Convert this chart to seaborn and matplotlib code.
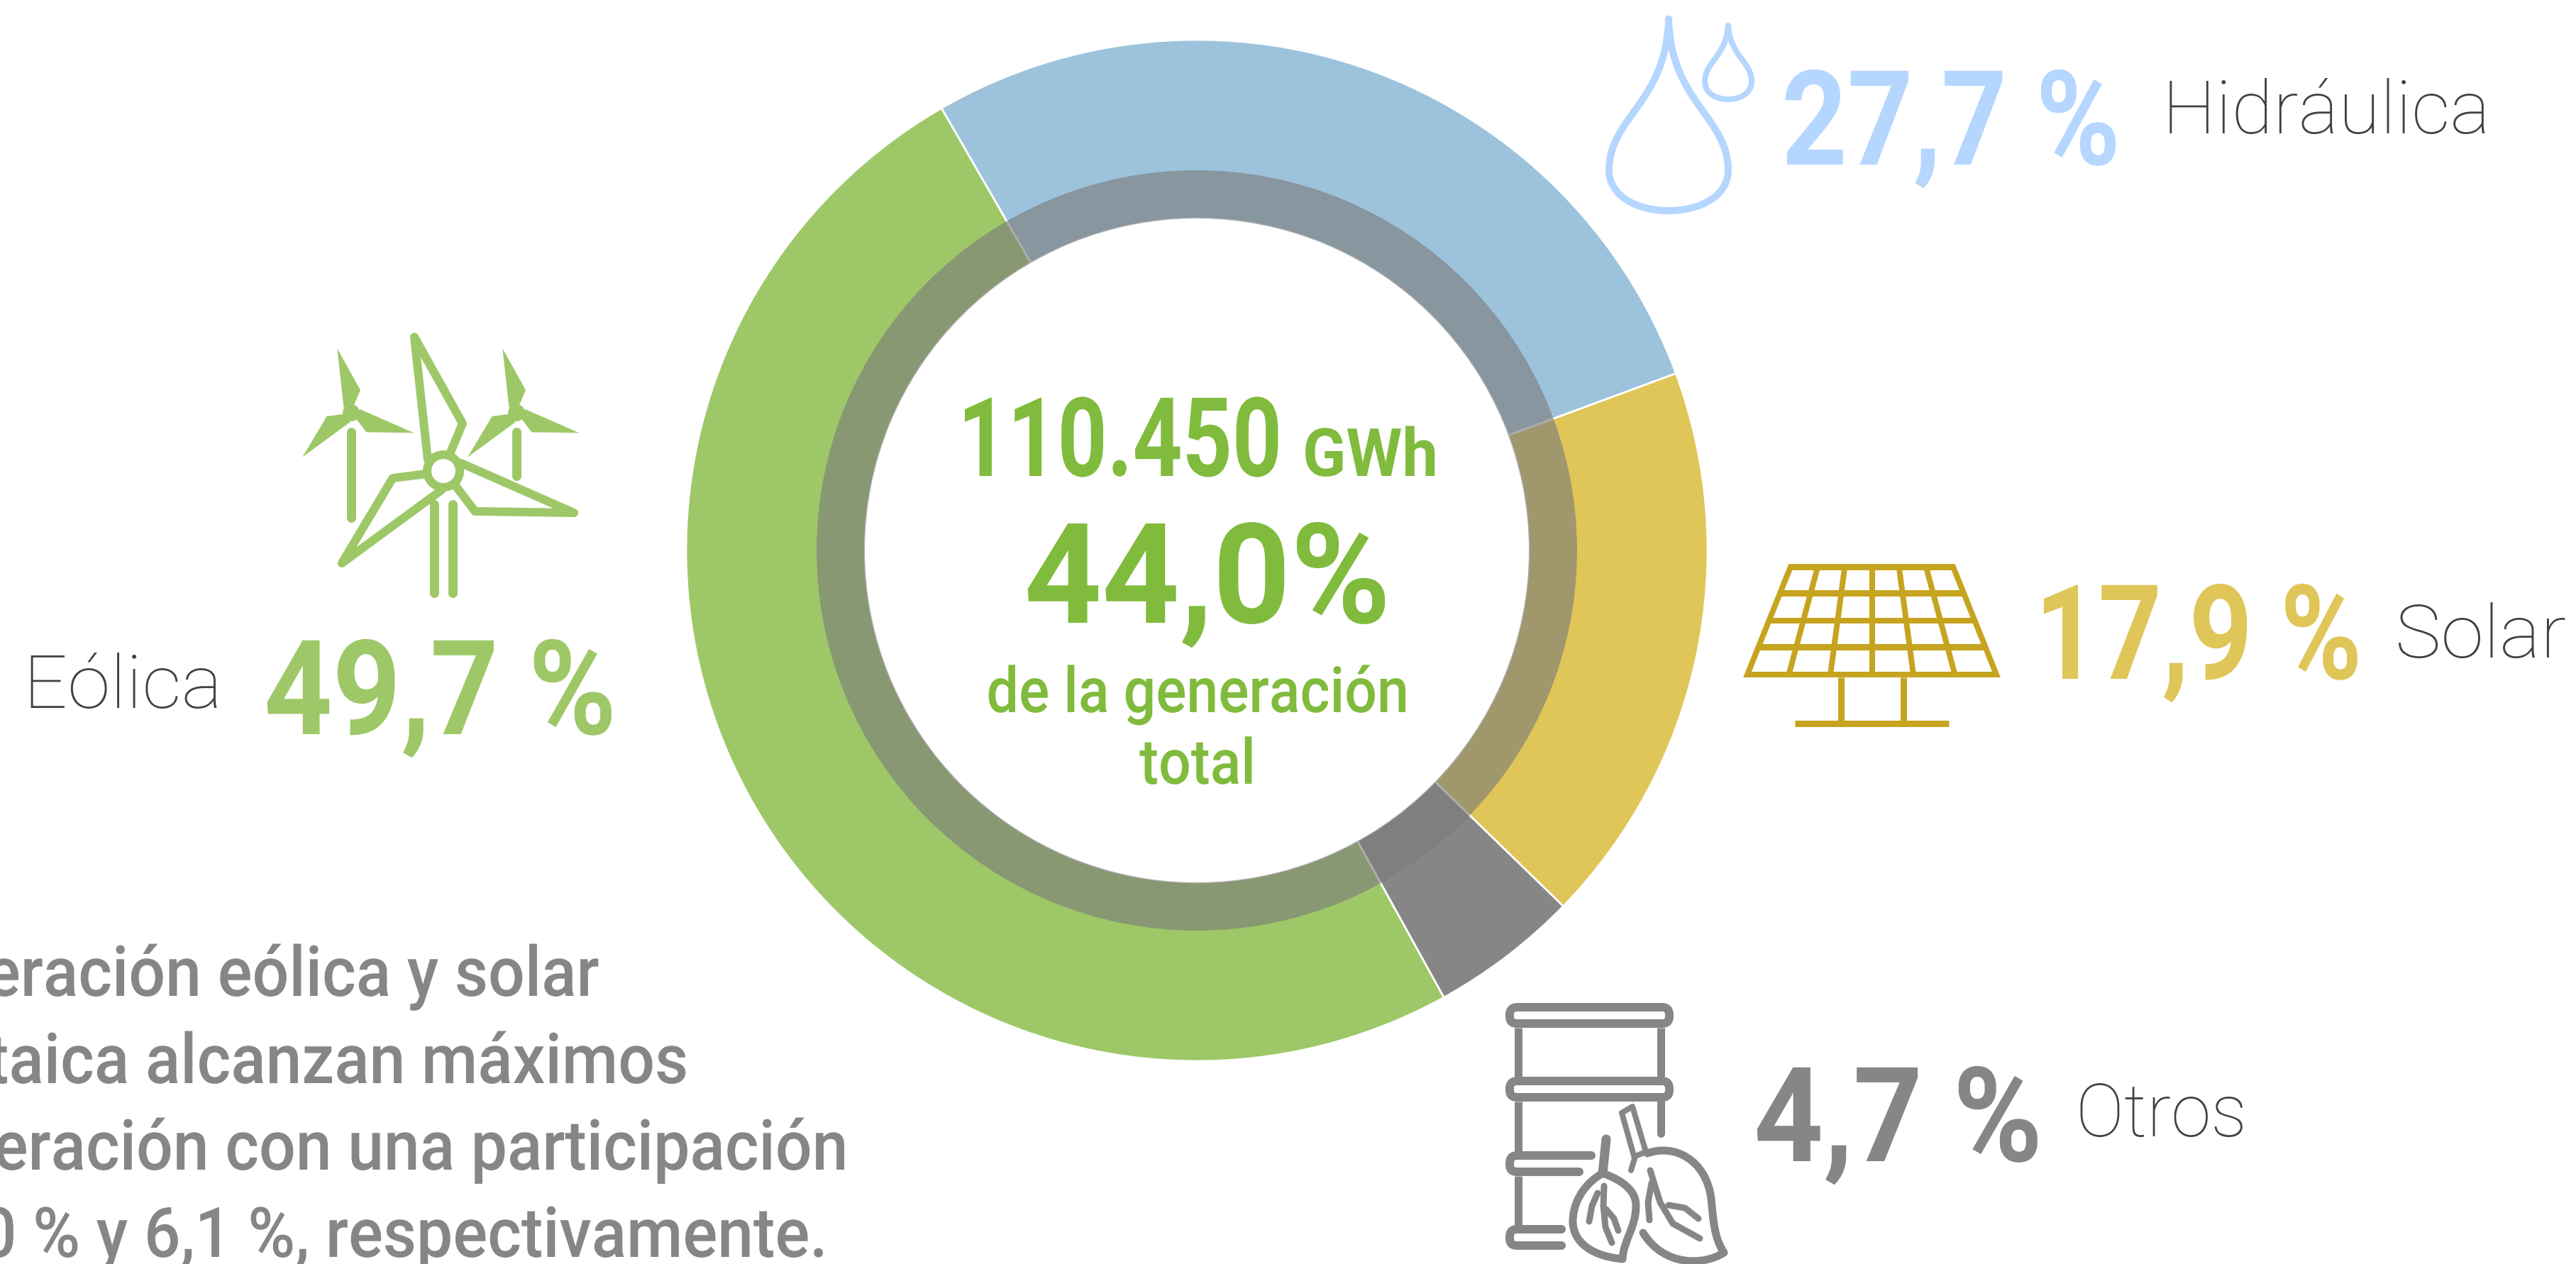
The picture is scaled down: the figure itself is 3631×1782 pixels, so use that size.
import matplotlib
matplotlib.use("Agg")
import matplotlib.pyplot as plt
import seaborn as sns
from matplotlib.path import Path
from matplotlib.patches import PathPatch, Polygon, Circle
from matplotlib.patheffects import AbstractPathEffect
from matplotlib.transforms import Affine2D, Bbox
import numpy as np

categories = ["Hidráulica", "Solar", "Otros", "Eólica"]
shares = [27.7, 17.9, 4.7, 49.7]
share_labels = ["27,7 %", "17,9 %", "4,7 %", "49,7 %"]
total_gwh = "110.450"
total_unit = "GWh"
total_share = "44,0%"
total_caption = ["de la generación", "total"]
paragraph = ["La generación eólica y solar",
             "fotovoltaica alcanzan máximos",
             "de generación con una participación",
             "de 9,0 % y 6,1 %, respectivamente."]

W, H = 3631, 1782
BLUE, YEL, GRAY, GRN = "#9DC3DC", "#E0C558", "#868686", "#9EC868"
LBLUE, DYEL, CGRN, DARK = "#B5D6FF", "#C6A41F", "#80BB3D", "#404040"
FONT = ["Roboto", "DejaVu Sans"]

sns.set_theme(style="white")
plt.rcParams["font.family"] = FONT

fig = plt.figure(figsize=(W / 100, H / 100), dpi=100, facecolor="white")
ax = fig.add_axes([0, 0, 1, 1])
CX, CY = 1687, H - 776

ax.pie(shares, startangle=120, counterclock=False, center=(CX, CY), radius=720,
       colors=sns.color_palette([BLUE, YEL, GRAY, GRN]), frame=True,
       wedgeprops=dict(width=720 - 468, edgecolor="white", linewidth=2.0))
ax.pie([sum(shares)], center=(CX, CY), radius=536, colors=["#7B7B7B"], frame=True,
       wedgeprops=dict(width=536 - 468, alpha=0.615, linewidth=0))
ax.set_xlim(0, W)
ax.set_ylim(0, H)
ax.set_aspect("auto")
ax.axis("off")


def lw(px):
    return px * 0.72


def P(pts):
    return [(x, H - y) for x, y in pts]


class Squeeze(AbstractPathEffect):
    """Draw a text narrower or wider about its anchor, as the condensed font of the original."""

    def __init__(self, x0, k):
        super().__init__()
        self.x0, self.k = x0, k

    def draw_path(self, renderer, gc, tpath, affine, rgbFace=None):
        adj = Affine2D().translate(-self.x0, 0).scale(self.k, 1).translate(self.x0, 0)
        renderer.draw_path(gc, tpath, affine + adj, rgbFace)


def txt(x, py, s, px, color, k=1.0, weight="bold", ha="left"):
    t = ax.text(x, H - py, s, fontsize=px * 0.72, color=color, fontweight=weight,
                family=FONT, ha=ha, va="baseline")
    t.set_path_effects([Squeeze(x, k)])
    base_extent = t.get_window_extent

    def extent(renderer=None, dpi=None):
        b = base_extent(renderer, dpi)
        return Bbox.from_extents(x + (b.x0 - x) * k, b.y0, x + (b.x1 - x) * k, b.y1)

    t.get_window_extent = extent
    return t


def line(pts, color, px, cap="round"):
    a = np.array(P(pts))
    ax.plot(a[:, 0], a[:, 1], color=color, lw=lw(px), solid_capstyle=cap,
            solid_joinstyle="round")


def bez(start, segs, color, px, fill="none"):
    verts = [start]
    codes = [Path.MOVETO]
    for s in segs:
        verts += list(s)
        codes += [Path.CURVE4] * 3
    ax.add_patch(PathPatch(Path(P(verts), codes), facecolor=fill, edgecolor=color,
                           lw=lw(px), capstyle="round", joinstyle="round"))


# ---------- texts ----------
txt(2511, 232, share_labels[0], 186, LBLUE, 0.87)
txt(3048, 188, categories[0], 104, DARK, 1.03, "light")
txt(2868, 957, share_labels[1], 186, YEL, 0.84)
txt(3376, 927, categories[1], 104, DARK, 1.05, "light")
txt(2472, 1637, share_labels[2], 186, GRAY, 0.92)
txt(2926, 1602, categories[2], 104, DARK, 0.98, "light")
txt(372, 1035, share_labels[3], 186, GRN, 0.905)
txt(33, 998, categories[3], 104, DARK, 1.05, "light")

txt(1350, 671, total_gwh, 155, CGRN, 0.79)
txt(1836, 671, total_unit, 94, CGRN, 0.96)
txt(1702, 878, total_share, 197, CGRN, 0.97, ha="center")
txt(1688, 1004, total_caption[0], 89, CGRN, 0.905, "medium", ha="center")
txt(1688, 1105, total_caption[1], 89, CGRN, 0.905, "medium", ha="center")

for s, right, base in zip(paragraph, [845, 971, 1196, 1166], [1404, 1527, 1649, 1772]):
    txt(right, base, s, 98, GRAY, 0.93, "medium", ha="right")


# ---------- drops ----------
def drop(cx, top, bottom, hw, wide, px):
    span = wide - top
    k = (bottom - wide) * 0.62
    bez((cx, top),
        [((cx + 3, top + 0.55 * span), (cx + hw, wide - 0.35 * span), (cx + hw, wide)),
         ((cx + hw, wide + k), (cx + hw * 0.55, bottom), (cx, bottom)),
         ((cx - hw * 0.55, bottom), (cx - hw, wide + k), (cx - hw, wide)),
         ((cx - hw, wide - 0.35 * span), (cx - 3, top + 0.55 * span), (cx, top))],
        LBLUE, px)


drop(2352, 27, 297, 84, 240, 10)
drop(2436, 36, 140, 33, 115, 8)

# ---------- turbines ----------
BLADE = np.array([(-41, -189), (27, -67), (9, -24), (-22, -16)], float)


def turbine(hx, hy, scale, solid):
    for deg in (0, 120, 240):
        t = np.radians(deg)
        R = np.array([[np.cos(t), -np.sin(t)], [np.sin(t), np.cos(t)]])
        pts = (R @ (BLADE * scale).T).T + (hx, hy)
        ax.add_patch(Polygon(P(pts.tolist()), closed=True,
                             facecolor=GRN if solid else "none", edgecolor=GRN,
                             lw=lw(0 if solid else 12), joinstyle="round"))
    ax.add_patch(Circle((hx, H - hy), 23 * scale if not solid else 12,
                        facecolor="white" if not solid else GRN, edgecolor=GRN,
                        lw=lw(12 if not solid else 0), zorder=3))


turbine(495, 582, 0.48, True)
turbine(728, 582, 0.48, True)
turbine(625, 664, 1.0, False)
line([(612, 711), (612, 836)], GRN, 13)
line([(638, 711), (638, 836)], GRN, 13)
line([(495, 609), (495, 730)], GRN, 13)
line([(728, 609), (728, 671)], GRN, 13)

# ---------- solar panel ----------
tl, tr, br, bl = (2524, 799), (2753, 799), (2814, 951), (2463, 951)
ax.add_patch(Polygon(P([tl, tr, br, bl]), closed=True, facecolor="none", edgecolor=DYEL,
                     lw=lw(8), joinstyle="miter"))
for yy, th in [(799, 9), (836, 9), (875, 8), (912, 9), (951, 8)]:
    f = (yy - 799) / 152
    line([(tl[0] + (bl[0] - tl[0]) * f, yy), (tr[0] + (br[0] - tr[0]) * f, yy)], DYEL, th, "butt")
for i in range(1, 6):
    f = i / 6
    line([(tl[0] + (tr[0] - tl[0]) * f, 799), (bl[0] + (br[0] - bl[0]) * f, 951)], DYEL, 8, "butt")
line([(2595, 955), (2595, 1018)], DYEL, 9, "butt")
line([(2683, 955), (2683, 1018)], DYEL, 9, "butt")
line([(2530, 1019.5), (2747, 1019.5)], DYEL, 9, "butt")


# ---------- barrel ----------
def ring(top, x_left, x_top, x_bot, closed_right=False):
    r = 11
    y1, y2 = top + 6, top + 29
    c = 0.55 * r
    xl = x_left
    verts = [(x_top, y1), (xl + r, y1), (xl + c * 0.2, y1), (xl, y1 + 6), (xl, y1 + 11.5),
             (xl, y2 - 5), (xl + c * 0.2, y2), (xl + r, y2), (x_bot, y2)]
    codes = [Path.MOVETO, Path.LINETO, Path.CURVE4, Path.CURVE4, Path.CURVE4,
             Path.CURVE4, Path.CURVE4, Path.CURVE4, Path.LINETO]
    if closed_right:
        xr = x_top + r
        verts = verts[:-1] + [(x_top, y2), (xr - c * 0.2, y2), (xr, y2 - 5), (xr, y1 + 11.5),
                              (xr, y1 + 6), (xr - c * 0.2, y1), (x_top, y1)]
        codes = codes[:-1] + [Path.LINETO] + [Path.CURVE4] * 6
    ax.add_patch(PathPatch(Path(P(verts), codes), facecolor="none", edgecolor=GRAY,
                           lw=lw(12), capstyle="round", joinstyle="round"))


ring(1414, 2128, 2342, 2342, True)
ring(1518, 2128, 2342, 2342, True)
ring(1623, 2128, 2243, 2226)
ring(1727, 2128, 2201, 2201)
for a, b in [(1449, 1518), (1553, 1623), (1658, 1727)]:
    line([(2140, a), (2140, b)], GRAY, 11, "butt")
line([(2341, 1449), (2341, 1518)], GRAY, 11, "butt")
line([(2341, 1553), (2341, 1598)], GRAY, 11)

# ---------- leaves ----------
LW = 11
bez((2259, 1654), [((2228, 1672), (2217, 1700), (2217, 1722)),
                   ((2217, 1745), (2235, 1770), (2287, 1775)),
                   ((2288, 1750), (2306, 1730), (2306, 1700)),
                   ((2306, 1680), (2290, 1665), (2259, 1654))], GRAY, LW)
line([(2264, 1606), (2259, 1654)], GRAY, 13)
line([(2261, 1672), (2260, 1700), (2263, 1730), (2272, 1752)], GRAY, 9)
line([(2252, 1682), (2244, 1700), (2240, 1722)], GRAY, 9)
line([(2264, 1705), (2275, 1718), (2281, 1735)], GRAY, 9)

bez((2322, 1626), [((2360, 1612), (2405, 1635), (2412, 1690)),
                   ((2415, 1720), (2416, 1745), (2430, 1766)),
                   ((2400, 1785), (2345, 1785), (2316, 1738))], GRAY, LW)
line([(2286, 1569), (2301, 1560), (2320, 1624), (2305, 1630), (2299, 1650)], GRAY, 8)
line([(2286, 1569), (2304, 1633)], GRAY, 8)
line([(2326, 1650), (2340, 1695), (2358, 1725), (2396, 1746)], GRAY, 9)
line([(2328, 1668), (2323, 1695), (2325, 1720)], GRAY, 9)
line([(2352, 1699), (2375, 1703), (2394, 1718)], GRAY, 9)

fig.savefig("out.png", dpi=100, facecolor="white")
